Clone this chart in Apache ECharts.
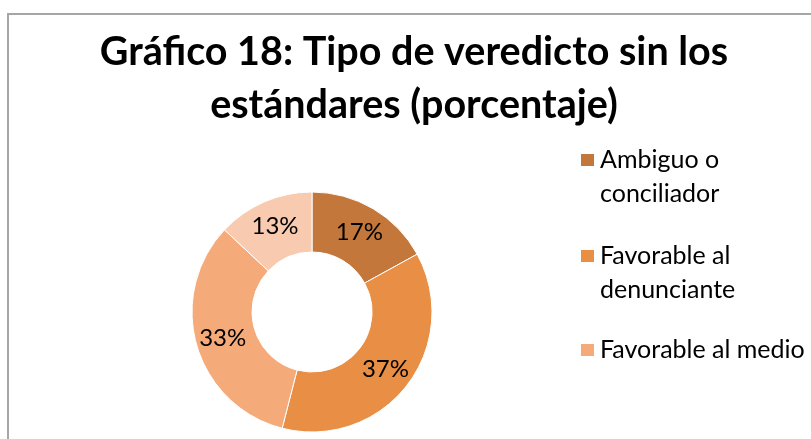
<!DOCTYPE html>
<html>
<head>
<meta charset="utf-8">
<title>Gráfico 18</title>
<script src="https://cdn.jsdelivr.net/npm/echarts@6/dist/echarts.min.js"></script>
<style>
  html, body {
    margin: 0;
    padding: 0;
    background: #ffffff;
  }

  #chart {
    width: 811px;
    height: 439px;
  }
</style>
</head>
<body>
<div id="chart"></div>
<script>
// datos
const categories = ['Ambiguo o conciliador', 'Favorable al denunciante', 'Favorable al medio', 'Otro']
const legendLabels = ['Ambiguo o\nconciliador', 'Favorable al\ndenunciante', 'Favorable al medio']
const values = [17, 37, 33, 13]
const colors = ['#c3773a', '#e88e45', '#f5ab79', '#f8cbb1']

const FONT = 'Lato'
const LEGEND_LINE = 34
// square at the top, empty segment below so the icon lines up with the first text line
const TALL_ICON = 'path://M0,0L15,0L15,14L0,14Z M0,48L15,48'

function buildLegend(index, top) {
  const label = legendLabels[index]
  const twoLines = label.indexOf('\n') >= 0
  return {
    orient: 'vertical',
    left: 579,
    top: top,
    padding: 0,
    itemWidth: 15,
    itemHeight: twoLines ? LEGEND_LINE + 14 : 14,
    icon: twoLines ? TALL_ICON : 'rect',
    selectedMode: false,
    data: [categories[index]],
    formatter: () => label,
    textStyle: {
      fontFamily: FONT,
      fontSize: 25,
      color: '#000000',
      lineHeight: LEGEND_LINE
    }
  }
}

const chart = echarts.init(document.getElementById('chart'), null, { renderer: 'canvas' })

chart.setOption({
  animation: false,
  color: colors,
  graphic: [
    {
      type: 'rect',
      silent: true,
      shape: { x: 8, y: 14, width: 900, height: 500 },
      style: { fill: 'none', stroke: '#a6a6a6', lineWidth: 2 }
    }
  ],
  title: {
    text: 'Gráfico 18: Tipo de veredicto sin los\nestándares (porcentaje)',
    left: 414,
    top: 26,
    padding: 0,
    textAlign: 'center',
    textStyle: {
      fontFamily: FONT,
      fontWeight: 'bold',
      fontSize: 39.5,
      lineHeight: 53,
      color: '#000000'
    }
  },
  legend: [
    buildLegend(0, 143),
    buildLegend(1, 239),
    buildLegend(2, 333)
  ],
  series: [
    {
      type: 'pie',
      center: [312, 312],
      radius: [60, 120],
      startAngle: 90,
      clockwise: true,
      silent: true,
      itemStyle: {
        borderColor: '#ffffff',
        borderWidth: 1
      },
      label: {
        show: true,
        position: 'inside',
        formatter: '{c}%',
        fontFamily: FONT,
        fontSize: 24,
        color: '#000000'
      },
      labelLine: { show: false },
      data: categories.map((name, i) => ({ name, value: values[i] }))
    }
  ]
})
</script>
</body>
</html>
